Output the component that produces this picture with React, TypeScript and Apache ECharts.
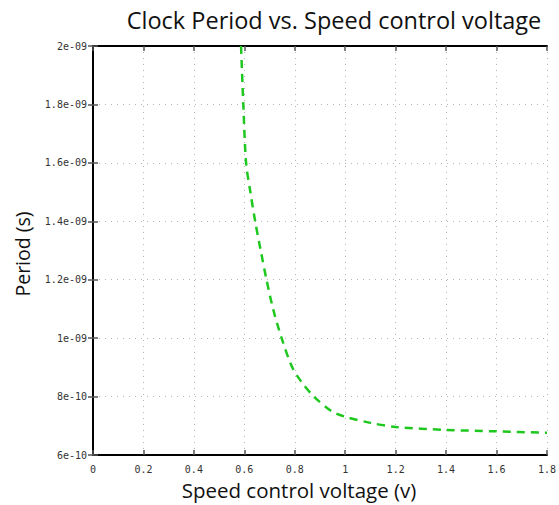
import React, { useEffect, useRef } from "react";
import * as echarts from "echarts";

const voltage = [0.587, 0.596, 0.607, 0.624, 0.643, 0.665, 0.688, 0.714, 0.748, 0.79, 0.827, 0.876, 0.946, 1.0, 1.1, 1.2, 1.4, 1.6, 1.8];
const period = [2.0e-9, 1.8e-9, 1.6e-9, 1.5e-9, 1.4e-9, 1.3e-9, 1.2e-9, 1.1e-9, 1.0e-9, 9.0e-10, 8.5e-10, 8.0e-10, 7.5e-10, 7.31e-10, 7.1e-10, 6.96e-10, 6.86e-10, 6.81e-10, 6.76e-10];

const xTickLabels = ["0", "0.2", "0.4", "0.6", "0.8", "1", "1.2", "1.4", "1.6", "1.8"];
const yTickLabels = ["6e-10", "8e-10", "1e-09", "1.2e-09", "1.4e-09", "1.6e-09", "1.8e-09", "2e-09"];

const X_MIN = 0, X_MAX = 1.8, X_INT = 0.2;
const Y_MIN = 6e-10, Y_MAX = 2e-9, Y_INT = 2e-10;

const TITLE = "Clock Period vs. Speed control voltage";
const X_NAME = "Speed control voltage (v)";
const Y_NAME = "Period (s)";

export default function App() {
  const ref = useRef<HTMLDivElement>(null);
  useEffect(() => {
    if (!ref.current) return;
    const chart = echarts.init(ref.current, null, { renderer: "svg" });
    const mono = "DejaVu Sans Mono";
    const sans = "Open Sans";
    const tickStyle = { show: true, inside: true, length: 5, lineStyle: { color: "#555", width: 1.5 } };
    const gridLine = { show: true, lineStyle: { color: "#b5b5b5", type: [1, 5] as any, width: 1 } };
    const xl = (v: number) => xTickLabels[Math.round((v - X_MIN) / X_INT)] ?? "";
    const yl = (v: number) => yTickLabels[Math.round((v - Y_MIN) / Y_INT)] ?? "";
    chart.setOption({
      animation: false,
      backgroundColor: "#ffffff",
      grid: { left: 93, top: 46, right: 12, bottom: 50, containLabel: false },
      xAxis: [
        {
          type: "value", min: X_MIN, max: X_MAX, interval: X_INT, position: "bottom",
          axisLine: { show: true, lineStyle: { color: "#000", width: 2 } },
          axisTick: tickStyle,
          axisLabel: { formatter: xl, fontFamily: mono, fontSize: 10, color: "#333", margin: 9 },
          splitLine: gridLine,
        },
        {
          type: "value", min: X_MIN, max: X_MAX, interval: X_INT, position: "top",
          axisLine: { show: true, lineStyle: { color: "#000", width: 2 } },
          axisTick: tickStyle,
          axisLabel: { show: false },
          splitLine: { show: false },
        },
      ],
      yAxis: [
        {
          type: "value", min: Y_MIN, max: Y_MAX, interval: Y_INT, position: "left",
          axisLine: { show: true, lineStyle: { color: "#000", width: 2 } },
          axisTick: tickStyle,
          axisLabel: { formatter: yl, fontFamily: mono, fontSize: 10, color: "#333", margin: 6 },
          splitLine: gridLine,
        },
        {
          type: "value", min: Y_MIN, max: Y_MAX, interval: Y_INT, position: "right",
          axisLine: { show: true, lineStyle: { color: "#000", width: 2 } },
          axisTick: tickStyle,
          axisLabel: { show: false },
          splitLine: { show: false },
        },
      ],
      series: [
        {
          type: "line",
          xAxisIndex: 0,
          yAxisIndex: 0,
          data: voltage.map((v, i) => [v, period[i]]),
          showSymbol: false,
          smooth: 0.3,
          clip: true,
          lineStyle: { color: "#1ec81e", width: 2.5, type: [8, 6] as any },
        },
      ],
      graphic: [
        {
          type: "text", x: 334, y: 20,
          style: { text: TITLE, fontFamily: sans, fontSize: 23.5, fill: "#111", align: "center", verticalAlign: "middle" },
        },
        {
          type: "text", x: 299, y: 490,
          style: { text: X_NAME, fontFamily: sans, fontSize: 20.5, fill: "#111", align: "center", verticalAlign: "middle" },
        },
        {
          type: "text", x: 22, y: 254, rotation: Math.PI / 2,
          style: { text: Y_NAME, fontFamily: sans, fontSize: 19.5, fill: "#111", align: "center", verticalAlign: "middle" },
        },
      ],
    });
    return () => chart.dispose();
  }, []);
  return <div ref={ref} style={{ width: 559, height: 505, position: "absolute", left: 0, top: 0 }} />;
}
